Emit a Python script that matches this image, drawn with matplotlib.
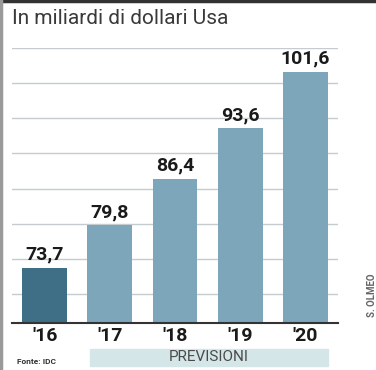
import matplotlib
matplotlib.use("Agg")
import matplotlib.pyplot as plt
from matplotlib.patches import Rectangle
from matplotlib.lines import Line2D

anni = ["'16", "'17", "'18", "'19", "'20"]
valori = [73.7, 79.8, 86.4, 93.6, 101.6]
etichette = ["73,7", "79,8", "86,4", "93,6", "101,6"]
griglia = [70, 75, 80, 85, 90, 95, 100, 105]

plt.rcParams['font.family'] = ['Roboto', 'DejaVu Sans']

fig = plt.figure(figsize=(3.76, 3.70), dpi=100)
ax = fig.add_axes([12/376, 1 - 323/370, 326/376, (323 - 48)/370])

colori = ['#3f6f86'] + ['#7ea6ba'] * 4
x = range(len(valori))
for g in griglia:
    ax.axhline(g, color='#c5ccd0', lw=1.0, zorder=0)
ax.bar(x, valori, width=0.69, color=colori, zorder=2)
for i, v in enumerate(valori):
    ax.text(i, v + 0.6, etichette[i], ha='center', va='bottom',
            fontsize=14, fontweight='bold', color='#1a1a1a')

ax.set_xlim(-0.5, 4.5)
ax.set_ylim(65.9, 105)
ax.axhline(65.9, color='#333333', lw=1.5, zorder=3, clip_on=False)
for s in ax.spines.values():
    s.set_visible(False)
ax.set_yticks([])
ax.set_xticks(list(x))
ax.set_xticklabels(anni, fontsize=14, fontweight='bold', color='#1a1a1a')
ax.tick_params(axis='x', length=0, pad=3)

fig.text(12/376, 1 - 19/370, "In miliardi di dollari Usa", fontsize=15,
         color='#3a3a3a', va='center', ha='left')

fig.patches.append(Rectangle((90/376, 1 - 366/370), 238/376, 17/370,
                             transform=fig.transFigure, color='#d5e6e9', zorder=0))
fig.text(209/376, 1 - 357/370, "PREVISIONI", fontsize=11, color='#4a4a4a',
         ha='center', va='center')
fig.text(17/376, 1 - 362/370, "Fonte: IDC", fontsize=6, fontweight='bold',
         color='#333333', ha='left', va='center')
fig.text(372/376, 1 - 295/370, "S. OLMEO", fontsize=7, fontweight='bold',
         color='#666666', rotation=90, ha='center', va='center')

fig.lines.append(Line2D([0, 1], [1 - 1/370, 1 - 1/370], transform=fig.transFigure,
                        color='#333333', lw=2.5))
fig.lines.append(Line2D([1.5/376, 1.5/376], [0, 1], transform=fig.transFigure,
                        color='#9a9a9a', lw=2.5))

fig.savefig('out.png', dpi=100)
